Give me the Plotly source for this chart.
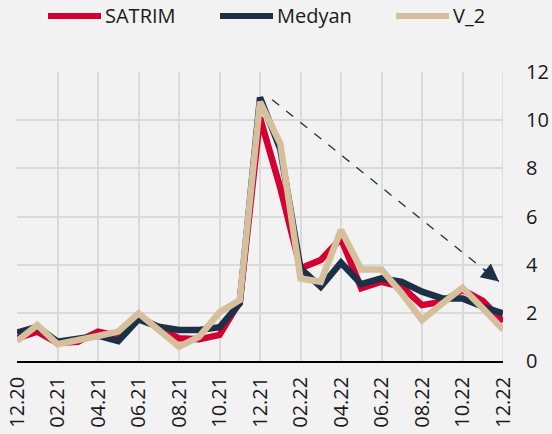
import plotly.graph_objects as go

# Monthly series, Dec 2020 - Dec 2022
months = ["12.20", "01.21", "02.21", "03.21", "04.21", "05.21", "06.21", "07.21",
          "08.21", "09.21", "10.21", "11.21", "12.21", "01.22", "02.22", "03.22",
          "04.22", "05.22", "06.22", "07.22", "08.22", "09.22", "10.22", "11.22", "12.22"]

satrim = [0.94, 1.22, 0.75, 0.80, 1.22, 1.04, 1.84, 1.42, 0.94, 0.90, 1.08, 2.46, 10.1,
          7.2, 3.85, 4.19, 5.09, 3.02, 3.29, 3.08, 2.32, 2.46, 2.95, 2.50, 1.63]
medyan = [1.18, 1.42, 0.80, 0.94, 1.05, 0.83, 1.73, 1.42, 1.29, 1.29, 1.40, 2.39, 10.94,
          8.8, 3.85, 3.08, 4.08, 3.19, 3.43, 3.29, 2.88, 2.60, 2.60, 2.25, 1.98]
v_2 = [0.83, 1.49, 0.70, 0.90, 1.04, 1.22, 1.98, 1.29, 0.60, 1.01, 2.02, 2.53, 10.76,
       9.03, 3.43, 3.29, 5.44, 3.80, 3.80, 2.81, 1.70, 2.39, 3.04, 2.19, 1.31]

tick_labels = months[::2]
y_ticks = [0, 2, 4, 6, 8, 10, 12]

series = [("SATRIM", satrim, "#d50032"),
          ("Medyan", medyan, "#1c3048"),
          ("V_2", v_2, "#d6bf9c")]

idx = list(range(len(months)))
fig = go.Figure()
for name, vals, color in series:
    fig.add_trace(go.Scatter(x=idx, y=vals, mode="lines", name=name,
                             line=dict(color=color, width=6.5),
                             showlegend=False))

# Dashed trend arrow from the peak down to the end of the period
arrow_x = [12.6, 23.8]
arrow_y = [10.85, 3.3]
fig.add_trace(go.Scatter(x=arrow_x, y=arrow_y, mode="lines",
                         line=dict(color="#1c3048", width=1.3, dash="dash"),
                         showlegend=False, hoverinfo="skip"))
fig.add_annotation(x=arrow_x[1], y=arrow_y[1], ax=23.0, ay=3.85,
                   xref="x", yref="y", axref="x", ayref="y",
                   showarrow=True, arrowhead=2, arrowsize=1.6, arrowwidth=2.2,
                   arrowcolor="#1c3048", text="")

# Legend drawn along the top
legend_x = [48, 220, 396]
for (name, _, color), lx in zip(series, legend_x):
    fig.add_shape(type="line", xref="paper", yref="paper",
                  x0=(lx - 17) / 486, x1=(lx + 36) / 486,
                  y0=(361 - 16) / 289, y1=(361 - 16) / 289,
                  line=dict(color=color, width=6))
    fig.add_annotation(xref="paper", yref="paper",
                       x=(lx + 38) / 486, y=(361 - 16) / 289,
                       text=name, showarrow=False, xanchor="left", yanchor="middle",
                       font=dict(size=20, color="#1a1a1a", family="Open Sans"))

fig.update_layout(
    width=552, height=434,
    margin=dict(l=17, r=49, t=72, b=73),
    paper_bgcolor="#f2f2f2", plot_bgcolor="#f2f2f2",
    font=dict(family="Open Sans", size=20, color="#1a1a1a"),
    showlegend=False,
)
fig.update_xaxes(range=[0, 24], tickvals=idx[::2], ticktext=tick_labels,
                 tickangle=-90, showgrid=True, gridcolor="#dadada", gridwidth=1.5,
                 showline=True, linecolor="#000000", linewidth=1.5,
                 zeroline=False, ticks="", ticklabelstandoff=6, automargin=False)
fig.update_yaxes(range=[0, 12], tickvals=y_ticks, side="right",
                 showgrid=True, gridcolor="#dadada", gridwidth=1.5,
                 zeroline=False, showline=False, ticks="", ticklabelstandoff=22,
                 automargin=False)

# Vertical border on the right edge of the plotting area
fig.add_shape(type="line", xref="x", yref="paper", x0=24, x1=24, y0=0, y1=1,
              line=dict(color="#dadada", width=1.5), layer="below")

fig.write_html("out.html")
